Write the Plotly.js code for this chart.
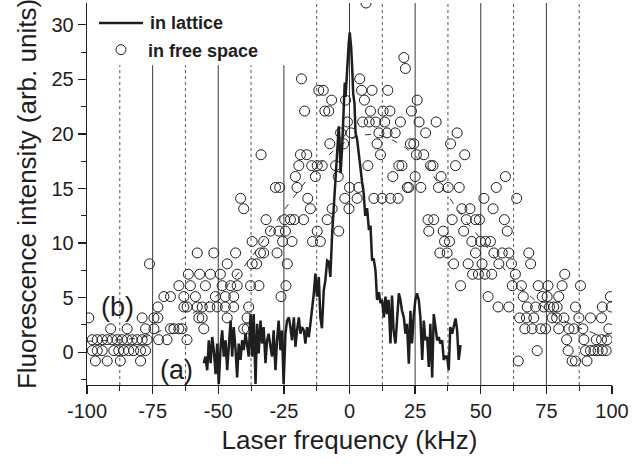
<!DOCTYPE html>
<html>
<head>
<meta charset="utf-8">
<script src="https://cdn.plot.ly/plotly-3.0.1.min.js"></script>
<style>html,body{margin:0;padding:0;background:#fff;}#chart{width:644px;height:468px;}</style>
</head>
<body>
<div id="chart"></div>
<script>
// ---- free-space fluorescence (open circles) ----
const fsX = [
  -96.8,-92.3,-87.3,-79.6,64.3,84.8,86.1,90.5,
  -98,-96.1,-94.2,-89.8,-87.9,-86,-84.1,-82.2,-79.6,-77.7,71.5,83.3,89.9,91.8,93.1,94.7,96.3,97.8,
  -98,-96.1,-94.2,-92.3,-90.4,-88.5,-86.6,-84.7,-82.8,-80.9,-79,-77.1,-72.7,-69.5,-61.9,82.7,89.3,94,96,98.2,
  -91,-84.7,-77.7,-74.5,-68.2,-66.9,-65,-63.8,-55.5,-40.3,-39,66.8,69.6,72.8,74.7,79.7,83.6,85.5,88.9,98.8,
  -99.3,-79,-74.5,-73,-57.4,-56.1,-46.6,-39,64.8,67.4,70.2,77.2,78.9,81.7,87.4,91.8,96,
  -73,-63.1,-61.9,-58,-56.1,-53.2,-50.4,-47.3,-44.1,-38.4,56.6,60.7,67.7,70.9,74,76.2,77.8,79.1,86.1,96.3,99.7,
  -70.7,-68.2,-63.1,-58.7,-51.1,-47.3,-44.1,-26.1,52.8,66.2,73.4,75.3,79.7,99.4,
  -65,-60.6,-54.9,-48.5,-45.3,-42.8,-37.7,-34.5,-24.2,42.3,62,65.5,71.9,75.6,81,88,
  -61.4,-57.1,-53,-49.2,-42.8,46.9,49.1,51.6,54.2,63.2,82,
  -76.2,-46.6,-37.1,-35.4,-23.7,39.7,45.2,50.5,56.9,61.7,69,
  -58,-51.7,-43.4,-33.9,-32.7,-27.6,34.4,37.2,48,55,58.2,60.7,68.3,
  -37.1,-32.7,-25.5,-21.9,-14.1,-11.1,36.2,38.1,46.6,49.9,51.8,53.7,
  -30.1,-26.9,-24.4,-12.3,-4.1,30.2,35.7,43.5,60.1,
  -31.8,-24.7,-22.5,-21,-17.5,-8.5,29.9,32.1,39.1,44.5,48,49.5,59,
  -40.3,-14.9,-6.6,-0.2,42.8,45.9,54.7,
  -41.5,-15.9,-1.8,2.9,9.3,12.4,15.6,18.5,51.2,63.7,
  -28.2,-26.6,-20,0,3.5,22,22.6,27.2,33.9,37.6,41.8,55.9,
  -20.6,-13,-4.3,16.5,25,34.9,59.4,
  -19.3,-14.4,-12.3,-10.4,-5.3,7,18.8,20,30.9,31.8,40.4,
  -33.7,-18.7,-16.3,11.8,25.5,28.3,43.9,
  -7.5,-2.2,10.5,23.2,24.5,38.5,
  -3.4,0.6,11.2,14.3,17.4,29,41,
  -0.8,5,7.5,10,13.4,19.4,26.5,33,
  -17.1,-9.4,-7.9,8,12.8,15.4,23.6,
  -6.8,-1.5,5.7,25.8,
  -11.7,-10,4.6,8.6,14.6,
  -18.3,3.9,
  21.3,
  20.7,
  6.3
];
const fsY = [
  -0.8,-0.8,-0.8,-0.8,-0.8,-0.8,-0.8,-0.8,
  0.15,0.15,0.15,0.15,0.15,0.15,0.15,0.15,0.15,0.15,0.15,0.15,0.15,0.15,0.15,0.15,0.15,0.15,
  1.15,1.15,1.15,1.15,1.15,1.15,1.15,1.15,1.15,1.15,1.15,1.15,1.15,1.15,1.15,1.15,1.15,1.15,1.15,1.15,
  2.15,2.15,2.15,2.15,2.15,2.15,2.15,2.15,2.15,2.15,2.15,2.15,2.15,2.15,2.15,2.15,2.15,2.15,2.15,2.15,
  3.15,3.15,3.15,3.15,3.15,3.15,3.15,3.15,3.15,3.15,3.15,3.15,3.15,3.15,3.15,3.15,3.15,
  4.15,4.15,4.15,4.15,4.15,4.15,4.15,4.15,4.15,4.15,4.15,4.15,4.15,4.15,4.15,4.15,4.15,4.15,4.15,4.15,4.15,
  5.1,5.1,5.1,5.1,5.1,5.1,5.1,5.1,5.1,5.1,5.1,5.1,5.1,5.1,
  6.1,6.1,6.1,6.1,6.1,6.1,6.1,6.1,6.1,6.1,6.1,6.1,6.1,6.1,6.1,6.1,
  7.15,7.15,7.15,7.15,7.15,7.15,7.15,7.15,7.15,7.15,7.15,
  8.1,8.1,8.1,8.1,8.1,8.1,8.1,8.1,8.1,8.1,8.1,
  9.1,9.1,9.1,9.1,9.1,9.1,9.1,9.1,9.1,9.1,9.1,9.1,9.1,
  10.15,10.15,10.15,10.15,10.15,10.15,10.15,10.15,10.15,10.15,10.15,10.15,
  11.1,11.1,11.1,11.1,11.1,11.1,11.1,11.1,11.1,
  12.15,12.15,12.15,12.15,12.15,12.15,12.15,12.15,12.15,12.15,12.15,12.15,12.15,
  13.15,13.15,13.15,13.15,13.15,13.15,13.15,
  14.1,14.1,14.1,14.1,14.1,14.1,14.1,14.1,14.1,14.1,
  15.1,15.1,15.1,15.1,15.1,15.1,15.1,15.1,15.1,15.1,15.1,15.1,
  16.1,16.1,16.1,16.1,16.1,16.1,16.1,
  17.1,17.1,17.1,17.1,17.1,17.1,17.1,17.1,17.1,17.1,17.1,
  18.1,18.1,18.1,18.1,18.1,18.1,18.1,
  19.1,19.1,19.1,19.1,19.1,19.1,
  20.1,20.1,20.1,20.1,20.1,20.1,20.1,
  21.1,21.1,21.1,21.1,21.1,21.1,21.1,21.1,
  22.1,22.1,22.1,22.1,22.1,22.1,22.1,
  23.1,23.1,23.1,23.1,
  24.0,24.0,24.0,24.0,24.0,
  25.05,25.05,
  26.0,
  27.0,
  32.0
];

// ---- fitted curve for free space (dashed) ----
const fitX = [-100,-90,-80,-75,-70,-65,-60,-55,-50,-45,-40,-35,-30,-25,-20,-15,-10,-5,0,5,10,15,20,25,30,35,40,45,50,55,60,65,70,75,80,85,90,95,100];
const fitY = [1.0,1.1,1.3,1.6,2.2,2.9,3.5,4.4,5.3,6.5,7.9,9.5,11.3,13.0,14.6,16.2,17.6,18.7,19.5,19.9,20.0,19.6,19.0,18.0,16.8,15.2,13.5,11.8,10.4,8.8,7.3,6.0,4.9,3.9,3.1,2.5,2.0,1.6,1.4];

// ---- fluorescence in lattice (solid line) ----
const latX = [
  -55.5,-54.9,-54.2,-53.6,-52.9,-52.3,-51.7,-51.0,-50.4,-49.8,
  -49.1,-48.5,-47.9,-47.2,-46.6,-46.0,-45.3,-44.7,-44.1,-43.4,
  -42.8,-42.2,-41.5,-40.9,-40.3,-39.6,-39.0,-38.4,-37.7,-37.1,
  -36.5,-35.8,-35.2,-34.6,-33.9,-33.3,-32.7,-32.0,-31.4,-30.8,
  -30.1,-29.5,-28.9,-28.2,-27.6,-27.0,-26.3,-25.7,-25.1,-24.4,
  -23.8,-23.1,-22.5,-21.9,-21.2,-20.6,-20.0,-19.3,-18.7,-18.1,
  -17.4,-16.8,-16.2,-15.5,-14.9,-14.3,-13.6,-13.0,-12.4,-11.7,
  -11.1,-10.5,-9.8,-9.2,-8.5,-7.9,
  -7.3,-6.6,-6.0,-5.3,-4.7,-4.1,-3.8,-3.4,-2.8,-2.2,-1.8,-1.5,-0.9,-0.3,0.1,
  0.6,1.0,1.4,1.9,2.3,2.9,3.5,4.2,4.8,5.4,
  6.0,6.7,7.4,8.0,8.6,9.2,9.9,10.5,11.2,11.8,12.4,13.1,13.7,14.3,14.9,15.6,16.2,16.8,17.5,18.1,
  18.8,19.4,20.0,20.7,21.3,21.9,22.6,23.2,23.8,24.5,25.1,25.7,26.4,27.0,27.7,28.3,28.9,29.6,30.2,30.8,
  31.5,32.1,32.7,33.4,34.0,34.6,35.3,35.9,36.5,37.2,37.8,38.4,39.1,39.7,40.4,41.0,41.6,42.3
];
const latY = [
  -1.0,-0.4,-1.65,1.1,-1.0,1.4,0.2,-2.0,0.8,-2.9,
  0.5,2.0,-0.4,1.1,-1.65,0.5,2.9,-0.4,2.3,0.2,
  -2.3,0.8,-0.7,1.1,0.2,1.7,0.5,-0.4,3.5,-0.4,
  3.5,-2.9,2.6,-0.1,2.9,0.8,2.3,-1.0,1.1,1.7,
  0.5,-0.4,2.0,-1.65,1.1,2.9,0.2,2.0,-2.9,1.7,
  2.9,3.2,2.3,1.1,3.2,0.5,2.0,3.2,1.7,2.3,
  2.0,0.8,2.3,1.4,2.6,3.85,5.4,7.2,5.1,6.9,
  3.2,2.2,5.7,6.6,8.4,8.3,
  6.9,10.9,13.5,16.4,19.2,20.7,19.5,16.4,18.8,22.2,24.7,23.4,26.2,28.3,29.3,
  28.0,26.2,23.7,22.8,20.1,19.5,18.2,16.4,15.6,14.6,
  12.5,13.2,11.2,11.6,8.4,8.6,7.5,4.8,5.5,4.5,4.8,3.2,5.1,3.5,4.8,0.8,5.2,2.0,0.8,2.9,
  5.4,4.8,3.8,3.2,1.7,2.6,-1.05,3.8,0.8,3.5,4.8,5.4,4.8,3.2,-0.7,2.9,1.1,1.4,-1.35,2.6,
  -2.3,3.5,2.3,1.1,1.4,0.8,1.1,-0.7,-0.4,-0.4,-1.65,2.3,1.7,2.3,3.1,2.0,-0.7,0.65
];

// ---- axes / reference lines ----
const xMajor = [-100,-75,-50,-25,0,25,50,75,100];
const xMinor = [-87.5,-62.5,-37.5,-12.5,12.5,37.5,62.5,87.5];
const yMajor = [0,5,10,15,20,25,30];
const yMinor = [-2.5,2.5,7.5,12.5,17.5,22.5,27.5];
const ySmall = [-2.5,0,2.5,5,7.5,10,12.5,15,17.5,20,22.5,25,27.5,30];
const solidLines = [-75,-50,-25,0,25,50,75];
const dottedLines = [-87.5,-62.5,-37.5,-12.5,12.5,37.5,62.5,87.5];
const xRange = [-100,100];
const yRange = [-3,32];
const lineTopLow = 26.3;   // lines below legend stop here
const legendEdge = -25;    // lines at or left of this stop below legend

const FONT = 'Liberation Sans, Arial, sans-serif';
const INK = '#1e1e1e';
const LAT_W = 2.5;

const shapes = [];
solidLines.forEach(v => shapes.push({type:'line', xref:'x', yref:'y', x0:v, x1:v, y0:yRange[0], y1:(v<=legendEdge?lineTopLow:yRange[1]), line:{color:'#3a3a3a', width:1}, layer:'below'}));
dottedLines.forEach(v => shapes.push({type:'line', xref:'x', yref:'y', x0:v, x1:v, y0:yRange[0], y1:(v<=legendEdge?lineTopLow:yRange[1]), line:{color:'#555', width:1, dash:'dot'}, layer:'below'}));
// legend sample for the lattice line
const legRowY = 0.9476;
shapes.push({type:'line', xref:'paper', yref:'paper', x0:0.0229, x1:0.1067, y0:legRowY, y1:legRowY, line:{color:INK, width:LAT_W}});

const traces = [
  {x: fitX, y: fitY, type:'scatter', mode:'lines', line:{color:'#333', width:1, dash:'6px,8px'}, showlegend:false, hoverinfo:'skip'},
  {x: fsX, y: fsY, type:'scatter', mode:'markers', name:'in free space', legend:'legend2',
   marker:{symbol:'circle-open', size:10, color:INK, line:{width:1, color:INK}}},
  {x: latX, y: latY, type:'scatter', mode:'lines', name:'in lattice', showlegend:false,
   line:{color:INK, width:LAT_W}}
];

const legFont = {family:FONT, size:18, weight:'bold', color:INK};
const layout = {
  width:644, height:468,
  margin:{l:87, r:32, t:3, b:83},
  paper_bgcolor:'#fff', plot_bgcolor:'#fff',
  font:{family:FONT, color:INK},
  showlegend:true,
  legend2:{x:0.0133, y:0.877, xanchor:'left', yanchor:'middle', bgcolor:'rgba(0,0,0,0)', borderwidth:0,
          font:legFont, itemwidth:44},
  xaxis:{range:xRange, tickmode:'array', tickvals:xMajor, ticktext:xMajor.map(String),
         ticks:'outside', ticklen:8, tickwidth:1.3, tickcolor:INK,
         minor:{tickmode:'array', tickvals:xMinor, ticks:'outside', ticklen:5, tickwidth:1, tickcolor:INK, showgrid:false},
         showline:true, linecolor:INK, linewidth:1.3, showgrid:false, zeroline:false,
         tickfont:{family:FONT, size:20, color:INK},
         title:{text:'Laser frequency (kHz)', font:{family:FONT, size:26, color:INK}, standoff:9}},
  xaxis2:{overlaying:'x', side:'top', range:xRange, tickmode:'array', tickvals:xMinor.concat(solidLines),
          ticks:'inside', ticklen:6, tickwidth:1, tickcolor:INK, showticklabels:false,
          showline:true, linecolor:INK, linewidth:1.3, showgrid:false, zeroline:false},
  yaxis:{range:yRange, tickmode:'array', tickvals:yMajor, ticktext:yMajor.map(String),
         ticks:'outside', ticklen:8, tickwidth:1.3, tickcolor:INK,
         minor:{tickmode:'array', tickvals:yMinor, ticks:'outside', ticklen:5, tickwidth:1, tickcolor:INK, showgrid:false},
         showline:true, linecolor:INK, linewidth:1.3, showgrid:false, zeroline:false,
         tickfont:{family:FONT, size:20, color:INK},
         title:{text:'Fluorescence intensity (arb. units)', font:{family:FONT, size:26, color:INK}, standoff:7}},
  yaxis2:{overlaying:'y', side:'right', range:yRange, tickmode:'array', tickvals:ySmall,
          ticks:'inside', ticklen:7, tickwidth:1, tickcolor:INK, showticklabels:false,
          showline:true, linecolor:INK, linewidth:1.3, showgrid:false, zeroline:false},
  shapes: shapes,
  annotations:[
    {x:0.1162, y:legRowY, xref:'paper', yref:'paper', xanchor:'left', yanchor:'middle', text:'in lattice', showarrow:false, font:legFont},
    {x:-88.5, y:4.15, xref:'x', yref:'y', text:'(b)', showarrow:false, font:{family:FONT, size:27, color:INK}},
    {x:-66, y:-1.6, xref:'x', yref:'y', text:'(a)', showarrow:false, font:{family:FONT, size:27, color:INK}}
  ]
};

Plotly.newPlot('chart', traces, layout, {staticPlot:true, displayModeBar:false});
</script>
</body>
</html>
